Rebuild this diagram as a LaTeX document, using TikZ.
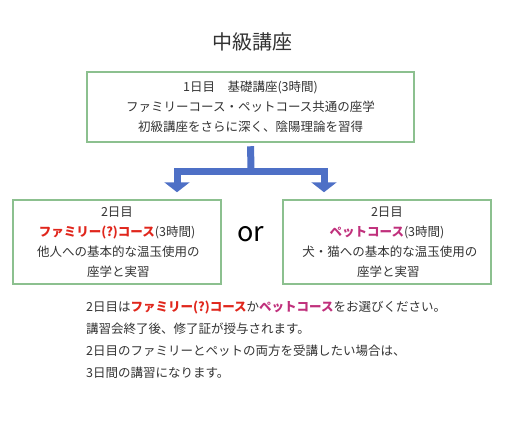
\documentclass[tikz,border=0pt]{standalone}
\usepackage{fontspec}
\setmainfont{Noto Sans CJK JP}
\usetikzlibrary{arrows.meta}
\definecolor{boxgreen}{HTML}{8CC08F}
\definecolor{flowblue}{HTML}{4E70C6}
\definecolor{famred}{HTML}{E0261C}
\definecolor{petpink}{HTML}{C0307C}
\definecolor{inkgray}{HTML}{333333}
\newcommand{\famcourse}{\textcolor{famred}{\bfseries ファミリー(?)コース}}
\newcommand{\petcourse}{\textcolor{petpink}{\bfseries ペットコース}}
\begin{document}
\begin{tikzpicture}[x=1pt,y=-1pt,
  course/.style={draw=boxgreen,line width=1.5pt,inner sep=0pt,align=center,
    text=inkgray,font=\fontsize{12.5}{20}\selectfont},
  flow/.style={draw=flowblue,line width=7pt},
  flowtip/.style={flow,-{Triangle[width=25pt,length=10pt]}}]
\useasboundingbox (0,0) rectangle (505,420);

\node[text=inkgray,font=\fontsize{20}{24}\selectfont] (title) at (252,42) {中級講座};

\node[course,minimum width=327pt,minimum height=70pt] (day1) at (250.5,107)
  {1日目\quad 基礎講座(3時間)\\ファミリーコース・ペットコース共通の座学\\初級講座をさらに深く、陰陽理論を習得};

\node[course,minimum width=208pt,minimum height=84pt] (fam) at (117,242)
  {2日目\\\famcourse(3時間)\\\ 他人への基本的な温玉使用の\\\ 座学と実習};
\node[course,minimum width=208pt,minimum height=84pt] (pet) at (387,242)
  {2日目\\\petcourse(3時間)\\\ \ 犬・猫への基本的な温玉使用の\\\ 座学と実習};

\node[text=black,font=\fontsize{27}{30}\selectfont] (or) at (251,234) {or};

% branching arrow
\coordinate (fork) at (251,171);
\draw[flow,line cap=rect,shorten <=7pt] (day1.south) -- (fork);
\draw[flowtip] (fork) -| ([xshift=60pt,yshift=7pt]fam.north);
\draw[flowtip] (fork) -| ([xshift=-63pt,yshift=7pt]pet.north);

\node[anchor=west,align=left,text=inkgray,inner sep=0pt,
  font=\fontsize{12.5}{22}\selectfont] (note) at (86,340)
  {2日目は\famcourse か\petcourse をお選びください。\\講習会終了後、修了証が授与されます。\\2日目のファミリーとペットの両方を受講したい場合は、\\3日間の講習になります。};
\end{tikzpicture}
\end{document}
